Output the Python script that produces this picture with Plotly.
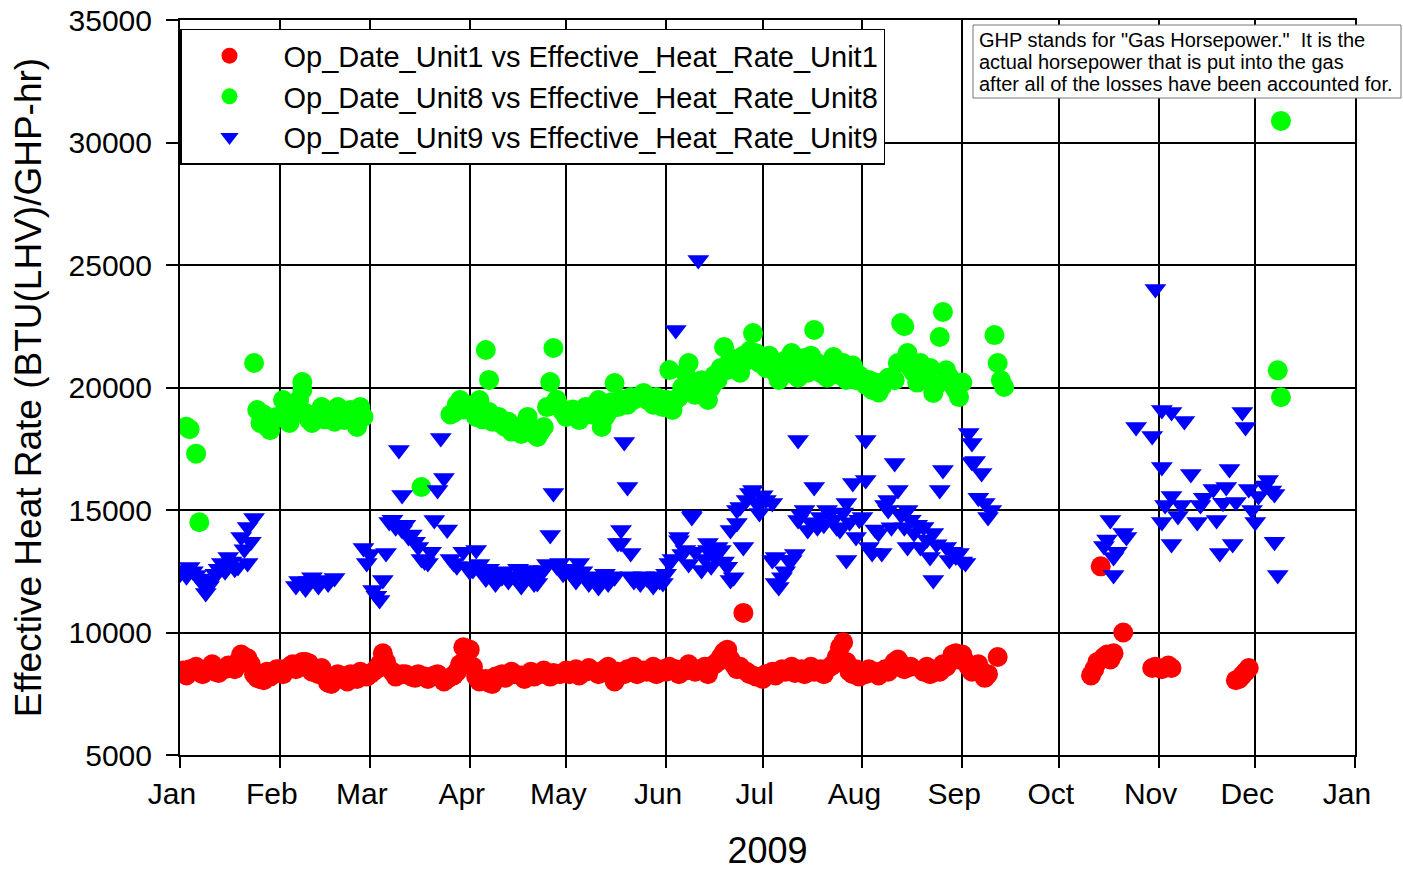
import pandas as pd
import plotly.graph_objects as go

# ---- data: day offset within 2009 (0 = Jan 1) and effective heat rate ----
unit1_days = [0,1,2,3,5,6,7,9,10,11,12,14,15,17,18,19,20,21,22,23,24,25,26,27,28,29,30,
              31,32,34,35,36,38,39,40,41,43,44,45,46,47,48,49,51,52,53,55,56,57,58,
              59,60,61,62,63,64,66,67,69,70,72,73,74,76,77,79,80,82,83,85,86,87,88,89,90,
              91,92,93,95,96,97,98,100,101,103,104,106,107,109,110,112,113,115,116,118,
              120,121,123,124,126,127,129,130,132,133,135,136,138,139,141,142,144,145,147,148,150,
              151,152,154,155,157,158,160,161,163,164,166,167,168,169,170,171,172,173,174,175,176,177,179,
              181,182,184,185,187,188,190,191,193,194,196,197,199,200,202,203,204,205,206,207,208,209,210,211,
              212,213,214,216,217,219,220,221,222,223,224,225,227,231,232,233,235,236,237,238,239,240,241,242,
              243,244,245,246,247,248,249,250,251,254,
              283,284,285,286,287,288,289,290,293,
              302,303,305,307,308,
              328,329,330,331,332]
unit1_vals = [8350,8450,8250,8500,8600,8400,8300,8550,8700,8400,8350,8500,8650,8500,8800,9100,9000,8950,8700,8300,8150,8100,8050,8400,8200,8400,8500,
              8500,8300,8600,8700,8500,8800,8800,8750,8400,8300,8550,8200,7950,7900,8100,8300,8200,8000,8300,8100,8400,8300,8200,
              8300,8400,8500,8700,9150,8800,8400,8200,8300,8300,8200,8150,8300,8200,8100,8250,8300,8000,8100,8250,8400,8700,9400,9350,9300,
              8600,8200,8000,8100,7950,7900,8200,8300,8150,8400,8300,8250,8100,8400,8200,8300,8450,8200,8350,8300,
              8450,8300,8500,8250,8400,8550,8400,8300,8500,8600,8000,8400,8300,8500,8600,8300,8450,8400,8600,8300,8500,
              8400,8600,8500,8300,8450,8700,8400,8500,8600,8300,8700,8800,9000,9200,9300,8900,8700,8500,8600,10800,8400,8300,8200,
              8100,8300,8400,8250,8500,8400,8600,8350,8500,8300,8600,8400,8500,8300,8600,8700,9000,9400,9600,8800,8400,8300,8500,8200,
              8400,8300,8500,8400,8250,8500,8400,8600,8800,8900,8700,8500,8600,8400,8600,8300,8500,8400,8700,8600,8800,9100,9150,8900,
              9100,8800,8600,8400,8500,8700,8400,8150,8300,9000,
              8250,8500,8800,12700,9000,9100,8900,9150,10000,
              8550,8600,8500,8650,8550,
              8050,8100,8250,8400,8550]

unit8_days = [2,3,5,6,23,24,25,26,27,28,29,30,32,33,34,35,36,37,38,38,39,40,41,42,44,45,47,48,49,50,51,52,53,55,56,57,
              75,
              84,85,86,87,88,89,90,91,92,93,94,95,96,96,97,98,99,100,101,102,103,104,105,106,107,108,109,110,111,112,113,114,115,116,117,118,119,
              120,121,122,123,124,125,126,127,128,129,130,131,132,133,134,135,136,137,138,139,140,141,142,144,145,146,147,148,149,150,
              151,152,153,154,155,156,157,158,159,160,161,162,163,164,165,166,167,168,169,170,171,172,173,174,175,176,177,178,179,180,
              181,182,183,184,185,186,187,188,189,190,191,192,193,194,195,196,197,198,199,200,201,202,203,204,205,206,207,208,209,210,211,
              213,214,215,216,217,218,220,222,223,224,225,226,227,228,229,230,231,232,233,234,235,236,237,238,239,240,241,242,243,
              253,254,255,256,
              341,342,342]
unit8_vals = [18400,18300,17300,14500,21000,19080,18550,18900,18400,18260,18700,18800,19490,18700,18550,18900,19100,19500,20220,19900,18960,18700,18550,18900,19200,18700,18800,18600,19200,18900,18670,19000,19080,18390,19200,18800,
              15940,
              18900,18960,19300,19490,19100,19300,19200,19080,18800,19490,18700,21530,20310,19000,18600,18700,18800,18500,18390,18600,18200,18390,18300,18100,18500,18800,18300,18100,17980,18200,18390,19200,20220,21610,19500,19200,19000,
              18800,18960,19100,18800,18670,19000,19200,19100,18900,19300,19490,18390,18800,19000,19400,20180,19200,19500,19400,19300,19610,19500,19600,19780,19500,19600,19300,19610,19400,19200,
              19500,20710,19080,19500,19610,20000,20600,21000,20020,19700,19900,20300,19700,19490,20000,20500,20310,20800,21650,20710,21200,20900,21000,20600,21300,21100,21500,22220,21400,21000,
              21120,20800,21300,21000,20600,20310,20700,21100,20600,21410,20900,20400,20800,21200,20600,21300,22350,21000,20590,20900,20400,20800,21240,20700,20500,21000,20310,20600,20900,20300,20500,
              20100,20310,19900,20200,19800,20020,20400,20300,21000,22630,22500,21410,20800,20600,20200,21000,20500,20300,20800,19780,20100,22060,23080,20700,20430,20100,19900,19610,20200,
              22140,21000,20300,20020,
              20700,19600,30880]

unit9_days = [0,1,2,3,4,5,6,7,8,9,10,11,12,13,14,15,16,17,18,19,20,21,21,22,23,
              36,37,38,39,40,41,43,44,46,48,
              57,58,59,60,61,62,63,64,65,66,67,68,69,69,70,71,72,73,74,75,76,77,78,79,80,81,82,83,84,85,86,
              88,89,90,91,92,93,94,95,96,97,98,99,100,101,102,103,104,105,106,107,108,109,110,111,112,113,114,115,116,117,118,119,
              120,121,122,123,124,125,126,127,128,129,130,131,132,133,134,135,136,137,137,138,139,140,140,141,142,143,144,145,146,147,148,149,150,
              151,152,153,154,155,155,156,157,158,159,159,160,161,162,163,164,164,165,166,167,168,169,170,171,171,172,173,173,174,175,176,177,178,179,180,180,
              181,182,184,184,185,185,186,187,188,189,190,191,192,192,193,194,195,196,197,198,199,200,201,202,203,204,205,206,207,207,208,209,210,211,
              212,213,213,214,215,216,217,218,219,220,220,221,222,223,224,225,226,226,227,228,229,230,231,232,233,234,234,235,236,237,238,239,240,241,242,
              243,244,245,246,246,247,248,249,250,251,252,
              287,288,289,290,290,291,293,294,297,302,303,305,305,305,306,308,308,308,310,311,312,314,316,317,318,
              321,322,323,324,325,326,327,328,330,331,332,333,334,335,337,338,339,340,340,341]
unit9_vals = [12400,12550,12300,12670,12500,12350,12200,12000,11610,11900,12140,12400,12600,12840,12500,13080,12900,12600,12670,13900,13400,14310,12840,13700,14670,
              11900,12100,12020,11800,12100,12260,11900,12140,12000,12220,
              13450,12840,13200,11730,11500,11330,12140,13240,14510,14600,14300,17450,15610,14180,14400,13900,14000,13700,13490,13000,12900,12840,13300,14590,15820,17940,16310,14200,13000,12840,12700,
              13300,12700,12500,12550,13370,12800,12430,12200,12600,12300,12000,12400,12260,12500,12100,12300,12260,12600,11900,12200,12550,12300,12000,12020,12400,12550,12800,13980,15690,12700,12840,12400,
              12600,12550,12300,12100,12840,12500,12260,12000,12300,12100,11860,12200,12400,12000,12300,12260,13650,14180,13650,17780,15940,13240,12300,12100,12260,12000,12300,12200,12140,11900,12300,12100,12020,
              12400,12840,13000,22350,13900,13770,13200,13370,12800,14710,14800,13300,25200,12550,13000,13650,13370,12700,13100,13490,13370,12900,12680,14180,12140,12260,15000,14470,15120,13490,15410,15690,15820,15300,15330,14880,
              15600,15410,15290,12960,13080,12020,11860,12260,12500,12960,12960,13200,17860,14590,14800,15000,14180,14500,15940,14300,14710,14400,15000,14880,14600,14300,14180,14900,15290,12960,14500,16100,13900,14600,
              14710,17860,16220,13490,13240,14200,14060,13240,15200,15410,15000,14300,16920,15820,14800,14300,15000,13490,14600,14060,14400,13490,14310,13800,13080,14060,12140,13600,15820,16630,13490,12960,13300,13100,13240,
              12900,12840,18140,17730,16960,17000,15500,16510,15290,14710,15000,
              13530,13800,14590,13080,12350,13300,14060,13900,18390,18020,24020,19080,16760,14510,15200,19000,15570,13610,14760,15200,18630,16470,14510,15200,15500,
              15860,14590,13250,15300,15940,16670,13610,15330,19000,18390,15860,15000,14510,15570,16000,16220,15800,15650,13700,12350]

series_names = ["Op_Date_Unit1 vs Effective_Heat_Rate_Unit1",
                "Op_Date_Unit8 vs Effective_Heat_Rate_Unit8",
                "Op_Date_Unit9 vs Effective_Heat_Rate_Unit9"]
month_labels = ["Jan","Feb","Mar","Apr","May","Jun","Jul","Aug","Sep","Oct","Nov","Dec","Jan"]
note_lines = ['GHP stands for "Gas Horsepower."  It is the',
              'actual horsepower that is put into the gas',
              'after all of the losses have been accounted for.']

base = pd.Timestamp("2009-01-01")
def to_dates(days):
    return base + pd.to_timedelta(days, unit="D")

FONT = "Liberation Sans, Arial, sans-serif"

# plot-area geometry in pixels (for placing the note box)
L, R, T, B = 180, 1355, 20, 755
def px_x(px):
    return (px - L) / (R - L)
def px_y(py):
    return (B - py) / (B - T)

fig = go.Figure()
fig.add_trace(go.Scatter(x=to_dates(unit1_days), y=unit1_vals, mode="markers", name=series_names[0],
                         legendgroup="a",
                         marker=dict(symbol="circle", size=20, color="rgb(255,0,0)", line=dict(width=0))))
fig.add_trace(go.Scatter(x=to_dates(unit8_days), y=unit8_vals, mode="markers", name=series_names[1],
                         legendgroup="b",
                         marker=dict(symbol="circle", size=20, color="rgb(0,255,0)", line=dict(width=0))))
fig.add_trace(go.Scatter(x=to_dates(unit9_days), y=unit9_vals, mode="markers", name=series_names[2],
                         legendgroup="c",
                         marker=dict(symbol="triangle-down", size=19, color="rgb(0,0,255)", line=dict(width=0))))

tickvals = pd.date_range("2009-01-01", "2010-01-01", freq="MS")

fig.update_layout(
    width=1403, height=871,
    margin=dict(l=L, r=1403 - R, t=T, b=871 - B, autoexpand=False),
    paper_bgcolor="white", plot_bgcolor="white",
    font=dict(family=FONT, color="black"),
    showlegend=True,
    legend=dict(x=0, y=0.988, xanchor="left", yanchor="top",
                bgcolor="white", bordercolor="black", borderwidth=1.5,
                font=dict(size=29, family=FONT), tracegroupgap=0,
                itemsizing="trace", indentation=-6, itemwidth=98),
    xaxis=dict(type="date", range=["2009-01-01", "2010-01-01"],
               tickmode="array", tickvals=tickvals, ticktext=month_labels,
               ticks="outside", ticklen=11, tickwidth=2, tickcolor="black",
               showgrid=True, gridcolor="black", gridwidth=1.5,
               showline=True, linewidth=2, linecolor="black", mirror=True,
               tickfont=dict(size=30), ticklabelshift=-8, automargin=False,
               title=dict(text="2009", font=dict(size=36), standoff=32),
               zeroline=False),
    yaxis=dict(range=[5000, 35000], tickmode="linear", tick0=5000, dtick=5000,
               tickformat="d",
               ticks="outside", ticklen=12, tickwidth=2, tickcolor="black",
               showgrid=True, gridcolor="black", gridwidth=1.5,
               showline=True, linewidth=2, linecolor="black", mirror=True,
               tickfont=dict(size=30), ticklabelstandoff=8, automargin=False,
               title=dict(text="Effective Heat Rate (BTU(LHV)/GHP-hr)", font=dict(size=37), standoff=16),
               zeroline=False),
)

# note box with tight line spacing
fig.add_shape(type="rect", xref="paper", yref="paper",
              x0=px_x(973), x1=px_x(1401), y0=px_y(98), y1=px_y(25),
              fillcolor="white", line=dict(color="#777", width=1), layer="above")
for i, line in enumerate(note_lines):
    fig.add_annotation(xref="paper", yref="paper", x=px_x(977), y=px_y(40 + 22 * i),
                       xanchor="left", yanchor="middle", showarrow=False, align="left",
                       text=line, font=dict(size=20, family=FONT))

fig.write_html("out.html")
